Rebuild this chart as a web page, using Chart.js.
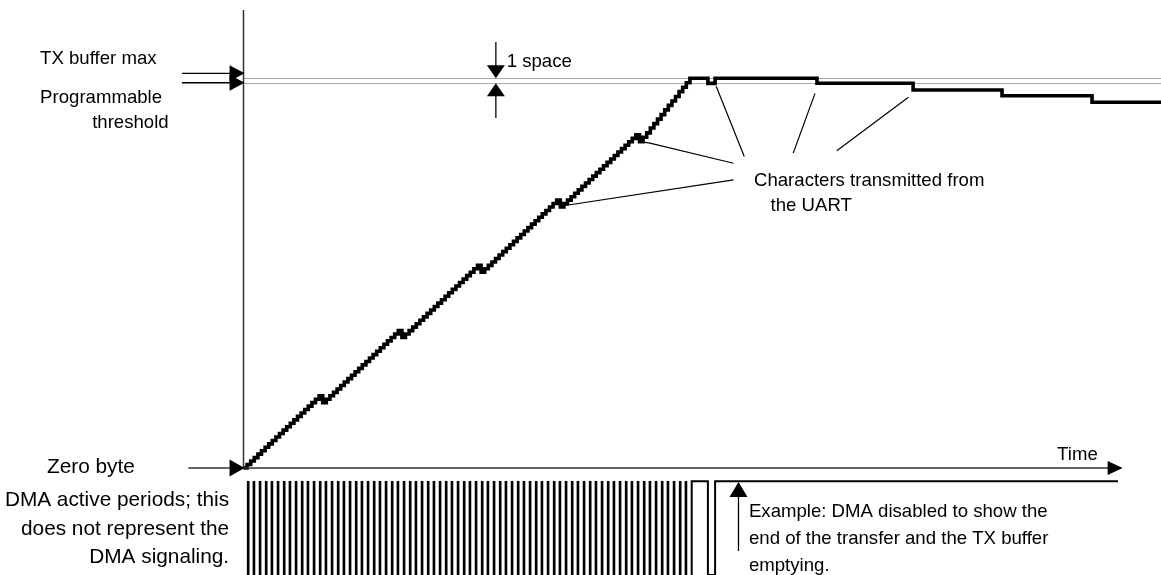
<!DOCTYPE html>
<html>
<head>
<meta charset="utf-8">
<script src="https://cdn.jsdelivr.net/npm/chart.js@4.4.1/dist/chart.umd.min.js"></script>
<style>
  html, body { margin: 0; padding: 0; background: #fff; }
  #wrap { width: 1161px; height: 575px; position: relative; }
</style>
</head>
<body>
<div id="wrap"><canvas id="chart"></canvas></div>
<script>
// TX buffer fill level (arbitrary units) at each DMA write step, t = 0..124
const rampLevels = [
    0, 1, 2, 3, 4, 5, 6, 7, 8, 9, 10, 11, 12, 13, 14, 15, 16, 17, 18, 19, 20, 21,
    19, 20, 21, 22, 23, 24, 25, 26, 27, 28, 29, 30, 31, 32, 33, 34, 35, 36, 37, 38, 39, 40,
    38, 39, 40, 41, 42, 43, 44, 45, 46, 47, 48, 49, 50, 51, 52, 53, 54, 55, 56, 57, 58, 59,
    57, 58, 59, 60, 61, 62, 63, 64, 65, 66, 67, 68, 69, 70, 71, 72, 73, 74, 75, 76, 77, 78,
    76, 77, 78, 79, 80, 81, 82, 83, 84, 85, 86, 87, 88, 89, 90, 91, 92, 93, 94, 95, 96, 97,
    95, 96.3, 97.6, 99, 100.3, 101.6, 102.9, 104.3, 105.6, 106.9, 108.2, 109.6, 110.9, 112.2, 113.5
];
// after the buffer is full: level changes only when the UART sends a character
const tailTimes = [129, 131, 159.3, 186, 210.7, 235.7, 254.9];
const tailLevels = [112, 113.5, 112.05, 110.1, 108.4, 106.5, 106.5];

const bufferMax = 113.5;
const threshold = 112.05;

// DMA active pulses (time of each pulse)
const dmaPulseTimes = [
    1.3, 2.9, 4.6, 6.3, 7.9, 9.6, 11.3, 12.9, 14.6, 16.3, 17.9, 19.6, 21.3, 22.9, 24.6,
    26.3, 27.9, 29.6, 31.3, 32.9, 34.6, 36.3, 37.9, 39.6, 41.3, 42.9, 44.6, 46.3, 47.9,
    49.6, 51.3, 52.9, 54.6, 56.3, 57.9, 59.6, 61.3, 62.9, 64.6, 66.3, 67.9, 69.6, 71.3,
    72.9, 74.6, 76.3, 77.9, 79.6, 81.3, 82.9, 84.6, 86.3, 87.9, 89.6, 91.3, 92.9, 94.6,
    96.3, 97.9, 99.6, 101.3, 102.9, 104.6, 106.3, 107.9, 109.6, 111.3, 112.9, 114.6,
    116.3, 117.9, 119.6, 121.3, 122.9
];
const dmaHigh = -3.9;
const dmaLow = -31.2;
// last pulse, then DMA disabled
const dmaTailTimes = [124.5, 124.5, 129, 129, 131, 131, 242.9];
const dmaTailLevels = [dmaLow, dmaHigh, dmaHigh, dmaLow, dmaLow, dmaHigh, dmaHigh];

// annotation layout (in data units)
const FAMILY = '"Liberation Sans", Arial, sans-serif';
const texts = [
    { s: 'TX buffer max', t: -56.5, v: 117.7, a: 'left', px: 18.6 },
    { s: 'Programmable', t: -56.5, v: 106.2, a: 'left', px: 18.6 },
    { s: 'threshold', t: -20.8, v: 98.95, a: 'right', px: 18.6 },
    { s: '1 space', t: 73.1, v: 116.7, a: 'left', px: 18.6 },
    { s: 'Characters transmitted from', t: 141.8, v: 82.2, a: 'left', px: 18.6 },
    { s: 'the UART', t: 146.4, v: 74.9, a: 'left', px: 18.6 },
    { s: 'Time', t: 226, v: 2.4, a: 'left', px: 18.6 },
    { s: 'Zero byte', t: -54.6, v: -1.6, a: 'left', px: 20.8 },
    { s: 'DMA active periods; this', t: -4.0, v: -11.1, a: 'right', px: 20.8 },
    { s: 'does not represent the', t: -4.0, v: -19.5, a: 'right', px: 20.8 },
    { s: 'DMA signaling.', t: -4.0, v: -27.7, a: 'right', px: 20.8 },
    { s: 'Example: DMA disabled to show the', t: 140.4, v: -14.4, a: 'left', px: 18.6 },
    { s: 'end of the transfer and the TX buffer', t: 140.4, v: -22.1, a: 'left', px: 18.6 },
    { s: 'emptying.', t: 140.4, v: -30.0, a: 'left', px: 18.6 }
];
const callouts = [
    [[110.2, 95], [112.9, 94.6], [136.1, 88.75]],
    [[88.4, 76.3], [136.1, 83.9]],
    [[131.3, 111.2], [139.1, 90.7]],
    [[158.75, 109.1], [152.7, 91.7]],
    [[184.7, 108.0], [164.8, 92.4]]
];

function head(ctx, tx, ty, dx, dy, len, half) {
    const bx = tx - dx * len, by = ty - dy * len;
    ctx.beginPath();
    ctx.moveTo(tx, ty);
    ctx.lineTo(bx - dy * half, by + dx * half);
    ctx.lineTo(bx + dy * half, by - dx * half);
    ctx.closePath();
    ctx.fill();
}

function seg(ctx, pts) {
    ctx.beginPath();
    pts.forEach((p, i) => i ? ctx.lineTo(p[0], p[1]) : ctx.moveTo(p[0], p[1]));
    ctx.stroke();
}

const diagram = {
    id: 'diagram',
    beforeDatasetsDraw(chart) {
        const { ctx, scales: { x, y } } = chart;
        ctx.save();
        ctx.strokeStyle = '#555';
        ctx.lineWidth = 1;
        ctx.setLineDash([1, 1]);
        [bufferMax, threshold].forEach(v => {
            const py = Math.round(y.getPixelForValue(v)) + 0.5;
            seg(ctx, [[x.getPixelForValue(0), py], [x.right, py]]);
        });
        ctx.restore();
    },
    afterDatasetsDraw(chart) {
        const { ctx, scales: { x, y } } = chart;
        const X = v => x.getPixelForValue(v);
        const Y = v => y.getPixelForValue(v);
        ctx.save();
        ctx.fillStyle = '#000';

        // axes
        ctx.strokeStyle = '#333';
        ctx.lineWidth = 1.5;
        seg(ctx, [[X(0), Y(0)], [X(0), Y(133.4)]]);
        seg(ctx, [[X(-15.3), Y(0)], [X(240.5), Y(0)]]);
        head(ctx, X(244.2), Y(0), 1, 0, 15, 7);
        head(ctx, X(0.3), Y(0), 1, 0, 15, 8.5);

        // buffer max / threshold pointers
        ctx.strokeStyle = '#000';
        ctx.lineWidth = 1.3;
        [114.95, 112.2].forEach(v => {
            seg(ctx, [[X(-17.1), Y(v)], [X(-3), Y(v)]]);
            head(ctx, X(0.3), Y(v), 1, 0, 15, 8);
        });

        // 1 space
        seg(ctx, [[X(70.1), Y(124.1)], [X(70.1), Y(bufferMax) - 10]]);
        head(ctx, X(70.1), Y(bufferMax), 0, 1, 13, 9);
        seg(ctx, [[X(70.1), Y(101.95)], [X(70.1), Y(threshold) + 10]]);
        head(ctx, X(70.1), Y(threshold), 0, -1, 13, 9);

        // DMA disabled pointer
        seg(ctx, [[X(137.5), Y(-24.2)], [X(137.5), Y(-4.1) + 10]]);
        head(ctx, X(137.5), Y(-4.1), 0, -1, 15, 9);

        // callouts
        ctx.lineWidth = 1.2;
        callouts.forEach(c => seg(ctx, c.map(p => [X(p[0]), Y(p[1])])));

        // labels
        ctx.textBaseline = 'alphabetic';
        texts.forEach(l => {
            ctx.font = l.px + 'px ' + FAMILY;
            ctx.textAlign = l.a;
            ctx.fillText(l.s, X(l.t), Y(l.v));
        });
        ctx.restore();
    }
};

const fillData = rampLevels.map((v, i) => ({ x: i, y: v }))
    .concat(tailTimes.map((t, i) => ({ x: t, y: tailLevels[i] })));

new Chart(document.getElementById('chart'), {
    type: 'line',
    data: {
        datasets: [
            {
                label: 'TX buffer level',
                data: fillData,
                stepped: true,
                borderColor: '#000',
                borderWidth: 3.6,
                borderJoinStyle: 'miter',
                pointRadius: 0,
                fill: false
            },
            {
                type: 'bar',
                label: 'DMA active',
                data: dmaPulseTimes.map(t => ({ x: t, y: [dmaLow, dmaHigh] })),
                backgroundColor: '#000',
                barThickness: 2
            },
            {
                label: 'DMA end',
                data: dmaTailTimes.map((t, i) => ({ x: t, y: dmaTailLevels[i] })),
                borderColor: '#000',
                borderWidth: 2,
                pointRadius: 0,
                fill: false
            }
        ]
    },
    options: {
        responsive: true,
        maintainAspectRatio: false,
        animation: false,
        layout: { padding: 0 },
        plugins: { legend: { display: false }, tooltip: { enabled: false } },
        scales: {
            x: { type: 'linear', min: -67.64, max: 254.86, offset: false, display: false },
            y: { type: 'linear', min: -31.2, max: 136.3, display: false }
        }
    },
    plugins: [diagram]
});
</script>
</body>
</html>
